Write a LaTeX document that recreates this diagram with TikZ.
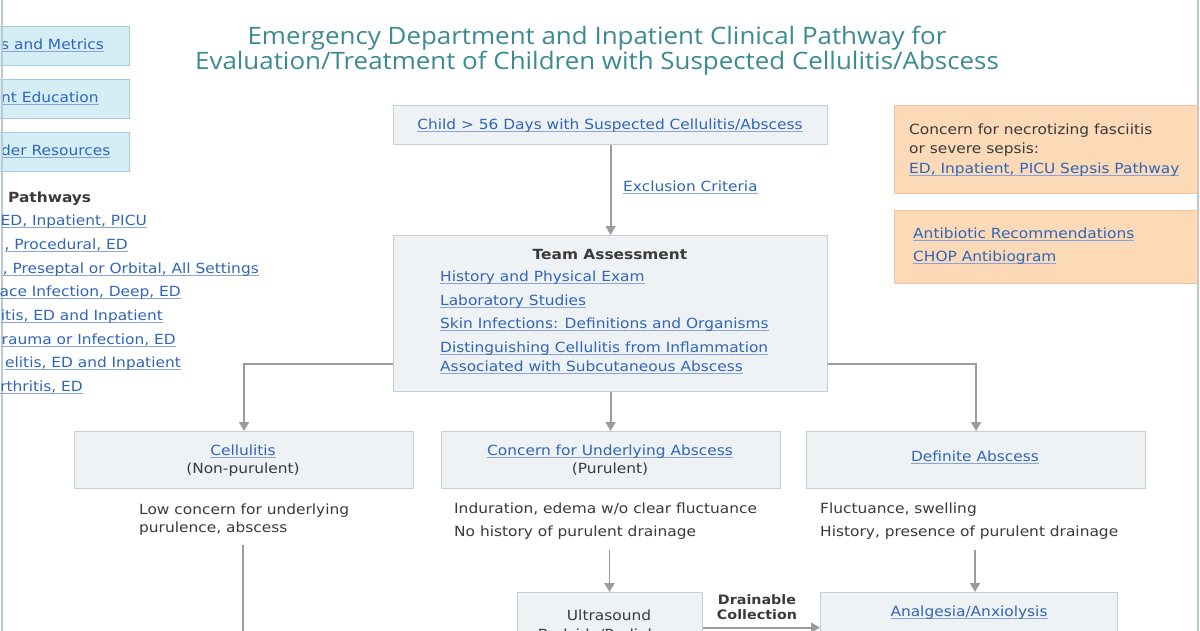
\documentclass[tikz,border=0pt]{standalone}
\usepackage{fontspec}
\setmainfont{DejaVu Sans}[FakeStretch=1.1]
\newfontfamily\titlefont{Open Sans}[FakeStretch=1.08]
\usetikzlibrary{arrows.meta}
\definecolor{linkblue}{HTML}{2F66B8}
\definecolor{linkul}{HTML}{8AA3DE}
\definecolor{txt}{HTML}{3A3A3A}
\definecolor{titleteal}{HTML}{3C8A93}
\definecolor{boxfill}{HTML}{EEF2F5}
\definecolor{boxline}{HTML}{C5D0D6}
\definecolor{bluefill}{HTML}{D5EEF6}
\definecolor{blueline}{HTML}{A8CCD8}
\definecolor{orfill}{HTML}{FCD9B7}
\definecolor{orline}{HTML}{F3C29A}
\definecolor{arr}{HTML}{9B9B9B}
\definecolor{framec}{HTML}{B9CAD2}
\newcommand\lnk[1]{\sbox0{\color{linkblue}#1}\leavevmode\rlap{\color{linkul}\rule[-2.2pt]{\wd0}{0.9pt}}\usebox0}
\tikzset{
  gbox/.style={draw=boxline, fill=boxfill, line width=1.2pt, inner sep=0pt},
  bbox/.style={draw=blueline, fill=bluefill, line width=1.2pt, inner sep=0pt},
  obox/.style={draw=orline, fill=orfill, line width=1.2pt},
  tx/.style={inner sep=0pt, yshift=-2.5pt, text=txt, font=\fontsize{14}{16}\selectfont},
  ttl/.style={inner sep=0pt, yshift=-2.5pt, text=titleteal, font=\titlefont\fontsize{24}{28}\selectfont},
  conn/.style={draw=arr, line width=1.8pt},
  arrow/.style={conn, -{Triangle[length=9pt,width=10pt]}},
}
\begin{document}
\begin{tikzpicture}[x=1pt,y=-1pt]
\useasboundingbox (0,0) rectangle (1200,630);
\clip (0,0) rectangle (1200,630);
\fill[white] (0,0) rectangle (1200,630);

% left blue boxes
\node[bbox, anchor=north east, minimum width=150pt, minimum height=39pt] (lb1) at (130,26) {};
\node[bbox, anchor=north east, minimum width=150pt, minimum height=39pt] (lb2) at (130,79) {};
\node[bbox, anchor=north east, minimum width=150pt, minimum height=39pt] (lb3) at (130,132) {};
\node[tx, anchor=mid west] (m1) at (1,44) {\lnk{s and Metrics}};
\node[tx, anchor=mid west] (m2) at (1,97) {\lnk{nt Education}};
\node[tx, anchor=mid west] (m3) at (1,150) {\lnk{der Resources}};

% frame lines
\draw[framec, line width=1.5pt] (2,-5) -- (2,640);
\draw[framec, line width=1.5pt] (1198,-5) -- (1198,640);

% title
\node[ttl] (t1) at (597,36) {Emergency Department and Inpatient Clinical Pathway for};
\node[ttl] (t2) at (597,61) {Evaluation/Treatment of Children with Suspected Cellulitis/Abscess};

% pathways list
\node[tx, anchor=mid west, font=\bfseries\fontsize{14}{16}\selectfont] (pw) at (8,197) {Pathways};
\node[tx, anchor=mid east] (p1) at (147,220) {\lnk{ED, Inpatient, PICU}};
\node[tx, anchor=mid east] (p2) at (128,244) {\lnk{, Procedural, ED}};
\node[tx, anchor=mid east] (p3) at (259,268) {\lnk{, Preseptal or Orbital, All Settings}};
\node[tx, anchor=mid east] (p4) at (181,291) {\lnk{ace Infection, Deep, ED}};
\node[tx, anchor=mid east] (p5) at (163,315) {\lnk{itis, ED and Inpatient}};
\node[tx, anchor=mid east] (p6) at (176,339) {\lnk{rauma or Infection, ED}};
\node[tx, anchor=mid east] (p7) at (181,362) {\lnk{elitis, ED and Inpatient}};
\node[tx, anchor=mid east] (p8) at (83,386) {\lnk{rthritis, ED}};

% orange boxes
\node[obox, anchor=north west, minimum width=303pt, minimum height=88pt] (o1) at (894,105) {};
\node[obox, anchor=north west, minimum width=303pt, minimum height=73pt] (o2) at (894,210) {};
\node[tx, anchor=mid west] (o1a) at (909,129) {Concern for necrotizing fasciitis};
\node[tx, anchor=mid west] (o1b) at (909,148) {or severe sepsis:};
\node[tx, anchor=mid west] (o1c) at (909,168) {\lnk{ED, Inpatient, PICU Sepsis Pathway}};
\node[tx, anchor=mid west] (o2a) at (913,233) {\lnk{Antibiotic Recommendations}};
\node[tx, anchor=mid west] (o2b) at (913,256) {\lnk{CHOP Antibiogram}};

% top box
\node[gbox, anchor=north west, minimum width=434pt, minimum height=39pt] (top) at (393,105) {};
\node[tx] (topt) at (610,123) {\lnk{Child > 56 Days with Suspected Cellulitis/Abscess}};

% team assessment
\node[gbox, anchor=north west, minimum width=434pt, minimum height=156pt] (team) at (393,235) {};
\node[tx, font=\bfseries\fontsize{14}{16}\selectfont] (teamt) at (610,252) {Team Assessment};
\node[tx, anchor=mid west] (ta1) at (440,276) {\lnk{History and Physical Exam}};
\node[tx, anchor=mid west] (ta2) at (440,300) {\lnk{Laboratory Studies}};
\node[tx, anchor=mid west] (ta3) at (440,323) {\lnk{Skin Infections: Definitions and Organisms}};
\node[tx, anchor=mid west] (ta4) at (440,347) {\lnk{Distinguishing Cellulitis from Inflammation}};
\node[tx, anchor=mid west] (ta5) at (440,366) {\lnk{Associated with Subcutaneous Abscess}};

\draw[arrow] (top.south) -- (team.north);
\node[tx, anchor=mid west] (excl) at (623,186) {\lnk{Exclusion Criteria}};

% row boxes
\node[gbox, anchor=north west, minimum width=339pt, minimum height=57pt] (cell) at (74,431) {};
\node[gbox, anchor=north west, minimum width=339pt, minimum height=57pt] (conc) at (441,431) {};
\node[gbox, anchor=north west, minimum width=339pt, minimum height=57pt] (defi) at (806,431) {};
\node[tx] (cellt) at (243,449) {\lnk{Cellulitis}};
\node[tx] (cellp) at (243,467) {(Non-purulent)};
\node[tx] (conct) at (610,449) {\lnk{Concern for Underlying Abscess}};
\node[tx] (concp) at (610,467) {(Purulent)};
\node[tx] (defit) at (975,455) {\lnk{Definite Abscess}};

\draw[arrow] ([yshift=-50pt]team.west) -| (cell.north);
\draw[arrow] ([yshift=-50pt]team.east) -| (defi.north);
\draw[arrow] (team.south) -- (team.south |- conc.north);

% descriptions
\node[tx, anchor=mid west] (d1a) at (139,509) {Low concern for underlying};
\node[tx, anchor=mid west] (d1b) at (139,527) {purulence, abscess};
\node[tx, anchor=mid west] (d2a) at (454,508) {Induration, edema w/o clear fluctuance};
\node[tx, anchor=mid west] (d2b) at (454,531) {No history of purulent drainage};
\node[tx, anchor=mid west] (d3a) at (820,508) {Fluctuance, swelling};
\node[tx, anchor=mid west] (d3b) at (820,531) {History, presence of purulent drainage};

% lower boxes
\node[gbox, anchor=north west, minimum width=185pt, minimum height=70pt] (us) at (517,592) {};
\node[gbox, anchor=north west, minimum width=297pt, minimum height=70pt] (an) at (820,592) {};
\node[tx] (ust) at (609,613) {Ultrasound};
\node[tx] (usb) at (609,633) {Bedside/Radiology};
\node[tx] (ant) at (969,610) {\lnk{Analgesia/Anxiolysis}};

\coordinate (c1) at (243,545);
\coordinate (c1e) at (243,640);
\coordinate (c2) at (609.5,550);
\coordinate (c3) at (975,550);
\draw[conn] (c1) -- (c1e);
\draw[arrow] (c2) -- (c2 |- us.north);
\draw[arrow] (c3) -- (c3 |- an.north);
\draw[arrow] (us.east) -- (an.west);
\node[tx, font=\bfseries\fontsize{13}{15}\selectfont] (dr1) at (757,597) {Drainable};
\node[tx, font=\bfseries\fontsize{13}{15}\selectfont] (dr2) at (757,612) {Collection};
\end{tikzpicture}
\end{document}
